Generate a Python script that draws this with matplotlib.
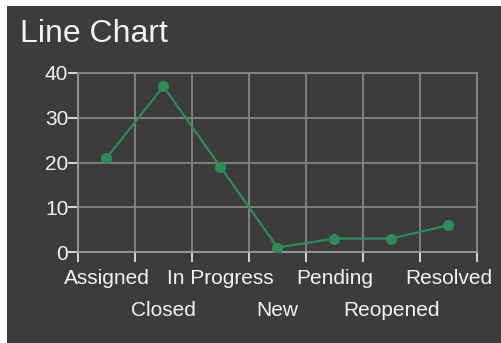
import matplotlib
matplotlib.use("Agg")
import matplotlib.pyplot as plt
from matplotlib.patches import Rectangle
from matplotlib.transforms import blended_transform_factory, offset_copy

categories = ["Assigned", "Closed", "In Progress", "New", "Pending", "Reopened", "Resolved"]
counts = [21, 37, 19, 1, 3, 3, 6]
y_ticks = [0, 10, 20, 30, 40]

BG = "#3c3c3c"
GRID = "#858585"
LINE = "#2e8b57"
TEXT = "#f2f2f2"
FONT = "Liberation Sans"

W, H = 502, 343
fig = plt.figure(figsize=(W / 100, H / 100), dpi=100, facecolor="white")

# dark panel behind the chart
fig.patches.append(Rectangle((7 / W, 0), 1 - 7 / W, 1 - 6 / H,
                             transform=fig.transFigure, facecolor=BG,
                             edgecolor="none", zorder=-10))

fig.text(20 / W, 1 - 34 / H, "Line Chart", color=TEXT, fontsize=23,
         family=FONT, va="center", ha="left")

ax = fig.add_axes([78 / W, 91 / H, 399 / W, 179 / H])
ax.set_zorder(1)
ax.set_facecolor(BG)

x = list(range(len(categories)))
ax.plot(x, counts, color=LINE, lw=1.6, marker="o", ms=7, zorder=3)

ax.set_xlim(-0.5, len(categories) - 0.5)
ax.set_ylim(0, 40)
ax.set_yticks(y_ticks)
ax.set_yticklabels([str(v) for v in y_ticks], color=TEXT, fontsize=15, family=FONT)

bounds = [i - 0.5 for i in range(len(categories) + 1)]
ax.set_xticks(bounds)
ax.set_xticklabels([])
ax.tick_params(axis="x", length=7, width=1.2, color=TEXT, direction="out")
ax.tick_params(axis="y", length=7, width=1.2, color=TEXT, direction="out", pad=0)

ax.grid(True, color=GRID, lw=1.3)
for s in ax.spines.values():
    s.set_color(GRID)
    s.set_linewidth(1.3)
ax.spines["left"].set_color("#9a9a9a")
ax.spines["bottom"].set_color("#9a9a9a")

# category names alternate between two rows beneath the axis
trans = blended_transform_factory(ax.transData, ax.transAxes)
for i, name in enumerate(categories):
    dy = -27 if i % 2 == 0 else -58
    t = offset_copy(trans, fig=fig, x=0, y=dy, units="dots")
    ax.text(i, 0, name, transform=t, ha="center", va="center",
            color=TEXT, fontsize=15, family=FONT)

fig.savefig("out.png", dpi=100, facecolor="white")
